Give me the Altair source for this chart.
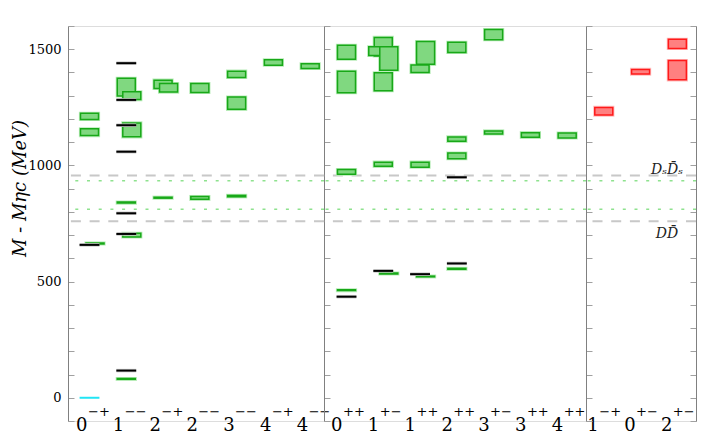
import altair as alt
import pandas as pd

# ---------------- data ----------------
Y_MIN, Y_MAX, Y_STEP = -100, 1600, 100
Y_LABEL_STEP = 500

left_cats = ["0-+", "1--", "2-+", "2--", "3--", "4-+", "4--"]
middle_cats = ["0++", "1+-", "1++", "2++", "3+-", "3++", "4++"]
right_cats = ["1-+", "0+-", "2+-"]          # exotic quantum numbers (red)

# lattice states: J^PC, mass (MeV above eta_c), half-height of box, lane (-1 left, 0 centre, 1 right)
lat_jpc = ["0-+", "0-+", "0-+",
           "1--", "1--", "1--", "1--", "1--", "1--",
           "2-+", "2-+", "2-+",
           "2--", "2--",
           "3--", "3--", "3--",
           "4-+", "4--",
           "0++", "0++", "0++", "0++",
           "1+-", "1+-", "1+-", "1+-", "1+-", "1+-",
           "1++", "1++", "1++", "1++",
           "2++", "2++", "2++", "2++",
           "3+-", "3+-", "3++", "4++",
           "1-+", "0+-", "2+-", "2+-"]
lat_mass = [1211, 1143, 664,
            1337, 1300, 1153, 840, 700, 81,
            1349, 1334, 861,
            1333, 860,
            1392, 1268, 868,
            1443, 1427,
            1487, 1359, 972, 463,
            1511, 1492, 1460, 1360, 1005, 535,
            1484, 1416, 1003, 522,
            1508, 1113, 1041, 555,
            1563, 1142, 1131, 1129,
            1233, 1403, 1523, 1410]
lat_err = [13.5, 14.5, 2,
           38, 16.5, 30, 2, 8, 1.5,
           18, 18.5, 2,
           19, 6,
           13.5, 26.5, 3,
           11.5, 10,
           30, 46, 10, 1.5,
           40, 18.5, 50.5, 38.5, 9, 2,
           49, 16, 11, 1.5,
           22, 9.5, 12, 2,
           22, 6.5, 10, 10.5,
           16.5, 10, 19.5, 41.5]
lat_lane = [0, 0, 1,
            0, 1, 1, 0, 1, 0,
            0, 1, 0,
            0, 0,
            0, 0, 0,
            0, 0,
            0, 0, 0, 0,
            0, -1, 1, 0, 0, 1,
            1, 0, 0, 1,
            0, 0, 0, 0,
            0, 0, 0, 0,
            0, 0, 0, 0]

# experimental states (black lines)
exp_jpc = ["0-+", "1--", "1--", "1--", "1--", "1--", "1--", "1--",
           "0++", "1+-", "1++", "2++", "2++"]
exp_mass = [658, 1440, 1282, 1173, 1059, 794, 705, 117,
            435, 546, 532, 578, 949]

# reference state (eta_c itself, cyan)
ref_jpc = ["0-+"]
ref_mass = [0]

# thresholds
thr_dash_mass = [957, 760]
thr_dash_label = ["D\u209bD\u0304\u209b", "DD\u0304"]
thr_dot_mass = [934, 811]

# ---------------- layout / style ----------------
PX_PER_UNIT = 36.78
LANE_SHIFT = 0.15
BOX_HALF = 0.245
LINE_HALF = 0.27
HEIGHT = 395
PANELS = [
    {"cats": left_cats, "width": 256, "lead": 21.5, "junction": -2.5},
    {"cats": middle_cats, "width": 262, "lead": 22.5, "junction": -4.5},
    {"cats": right_cats, "width": 110, "lead": 17.8, "junction": -5.5},
]
SERIF = "DejaVu Serif"
TICKS = list(range(Y_MIN, Y_MAX + 1, Y_STEP))
LABEL_TEST = (f"datum.value % {Y_LABEL_STEP} === 0 && datum.value >= 0 && "
              f"datum.value < {Y_MAX}")

lat = pd.DataFrame({"jpc": lat_jpc, "mass": lat_mass, "err": lat_err, "lane": lat_lane})
lat["lo"] = lat["mass"] - lat["err"]
lat["hi"] = lat["mass"] + lat["err"]
exp = pd.DataFrame({"jpc": exp_jpc, "mass": exp_mass})
ref = pd.DataFrame({"jpc": ref_jpc, "mass": ref_mass})
dash_df = pd.DataFrame({"mass": thr_dash_mass, "label": thr_dash_label})
dot_df = pd.DataFrame({"mass": thr_dot_mass})


def y_axis(orient, with_labels):
    kw = dict(orient=orient, values=TICKS, tickSize=alt.ExprRef(expr="-6"),
              tickColor="#a0a0a0", tickWidth=1, domainColor="#808080", domainWidth=1,
              grid=False, labels=with_labels, title="")
    if with_labels:
        kw.update(
            labelExpr=f"({LABEL_TEST}) ? format(datum.value, 'd') : ''",
            labelFont=SERIF, labelColor="black", labelPadding=13,
            labelFontSize={"condition": {"test": LABEL_TEST, "value": 13}, "value": 0},
            labelOverlap=False,
            title="M - M\u03b7c (MeV)", titleFont=SERIF, titleFontStyle="italic",
            titleFontWeight="normal", titleFontSize=18, titleColor="black",
            titleAngle=270, titleX=-48, titleY=162, titleAlign="center",
            titleBaseline="middle")
    return alt.Axis(**kw)


def make_panel(k, p):
    cats = p["cats"]
    idx = {c: i for i, c in enumerate(cats)}
    dom = [-p["lead"] / PX_PER_UNIT, (p["width"] - p["lead"]) / PX_PER_UNIT]
    xsc = alt.Scale(domain=dom, nice=False, zero=False)
    ysc = alt.Scale(domain=[Y_MIN, Y_MAX], nice=False, zero=False)
    first = k == 0
    last = k == len(PANELS) - 1

    digits = [c[0] for c in cats]
    x_axis = alt.Axis(values=list(range(len(cats))),
                      labelExpr="[" + ",".join(f"'{d}'" for d in digits) + "][datum.value]",
                      domain=False, ticks=False, grid=False, title="",
                      labelFont=SERIF, labelFontSize=18, labelColor="black",
                      labelAlign="right", labelOffset=p["junction"], labelBaseline="alphabetic",
                      labelPadding=9, labelFlush=False, labelOverlap=False)
    ya = y_axis("left", first)

    def X(f):
        return alt.X(f, scale=xsc, axis=x_axis)

    def Y(f):
        return alt.Y(f, scale=ysc, axis=ya)

    b = lat[lat["jpc"].isin(cats)].copy()
    b["x"] = b["jpc"].map(idx) + b["lane"] * LANE_SHIFT
    b["x0"] = b["x"] - BOX_HALF
    b["x1"] = b["x"] + BOX_HALF

    e = exp[exp["jpc"].isin(cats)].copy()
    e["x0"] = e["jpc"].map(idx) - LINE_HALF
    e["x1"] = e["jpc"].map(idx) + LINE_HALF

    r = ref[ref["jpc"].isin(cats)].copy()
    r["x0"] = r["jpc"].map(idx) - LINE_HALF
    r["x1"] = r["jpc"].map(idx) + LINE_HALF

    sup = pd.DataFrame({"i": list(range(len(cats))),
                        "sup": [c[1:].replace("-", "\u2212") for c in cats]})

    layers = []
    layers.append(alt.Chart(dash_df).mark_rule(color="#c8c8c8", strokeWidth=2, strokeDash=[10, 8.7])
                  .encode(y=Y("mass:Q")))
    layers.append(alt.Chart(dot_df).mark_rule(color="#8ee28e", strokeWidth=1.5, strokeDash=[3, 8.7])
                  .encode(y=Y("mass:Q")))

    if last:
        fill, stroke, halo = "#ff8080", "#ff1a1a", "#ffc0c0"
    else:
        fill, stroke, halo = "#80d880", "#18a818", "#b8ecb8"
    layers.append(alt.Chart(b).mark_rect(fill=fill, stroke=halo, strokeWidth=3.2)
                  .encode(x=X("x0:Q"), x2="x1:Q", y=Y("lo:Q"), y2="hi:Q"))
    layers.append(alt.Chart(b).mark_rect(fill=fill, stroke=stroke, strokeWidth=1.5)
                  .encode(x=X("x0:Q"), x2="x1:Q", y=Y("lo:Q"), y2="hi:Q"))
    if len(e):
        layers.append(alt.Chart(e).mark_rule(color="#c8c8c8", strokeWidth=3.5)
                      .encode(x=X("x0:Q"), x2="x1:Q", y=Y("mass:Q")))
        layers.append(alt.Chart(e).mark_rule(color="black", strokeWidth=2)
                      .encode(x=X("x0:Q"), x2="x1:Q", y=Y("mass:Q")))
    if len(r):
        layers.append(alt.Chart(r).mark_rule(color="#22e5f5", strokeWidth=2)
                      .encode(x=X("x0:Q"), x2="x1:Q", y=Y("mass:Q")))
    layers.append(alt.Chart(sup).mark_text(font=SERIF, fontSize=13, align="left", baseline="middle",
                                           dx=p["junction"] + 1, dy=-9, color="black")
                  .encode(x=X("i:Q"),
                          y=alt.YDatum(Y_MIN, type="quantitative", scale=ysc, axis=ya),
                          text="sup:N"))
    if last:
        layers.append(alt.Chart(dash_df.iloc[[0]]).mark_text(font=SERIF, fontStyle="italic", fontSize=14,
                                                             align="center", baseline="alphabetic",
                                                             dy=-1, color="#222222")
                      .encode(x=alt.XDatum(1.72, type="quantitative", scale=xsc, axis=x_axis),
                              y=Y("mass:Q"), text="label:N"))
        layers.append(alt.Chart(dash_df.iloc[[1]]).mark_text(font=SERIF, fontStyle="italic", fontSize=14,
                                                             align="center", baseline="alphabetic",
                                                             dy=17, color="#222222")
                      .encode(x=alt.XDatum(1.72, type="quantitative", scale=xsc, axis=x_axis),
                              y=Y("mass:Q"), text="label:N"))

    inner = alt.layer(*layers)
    if last:
        right_frame = (alt.Chart(dash_df).mark_rule(strokeOpacity=0)
                       .encode(y=alt.Y("mass:Q", scale=ysc, axis=y_axis("right", False))))
        ch = alt.layer(inner, right_frame).resolve_axis(y="independent")
    else:
        ch = inner
    return ch.properties(width=p["width"], height=HEIGHT)


panels = [make_panel(k, p) for k, p in enumerate(PANELS)]
chart = (alt.hconcat(*panels, spacing=0, bounds="flush")
         .properties(padding={"left": 2, "top": 17, "right": 0, "bottom": 0})
         .configure_view(stroke=None)
         .configure(background="white"))

chart.save("out.html", embed_options={"renderer": "svg", "actions": False})
